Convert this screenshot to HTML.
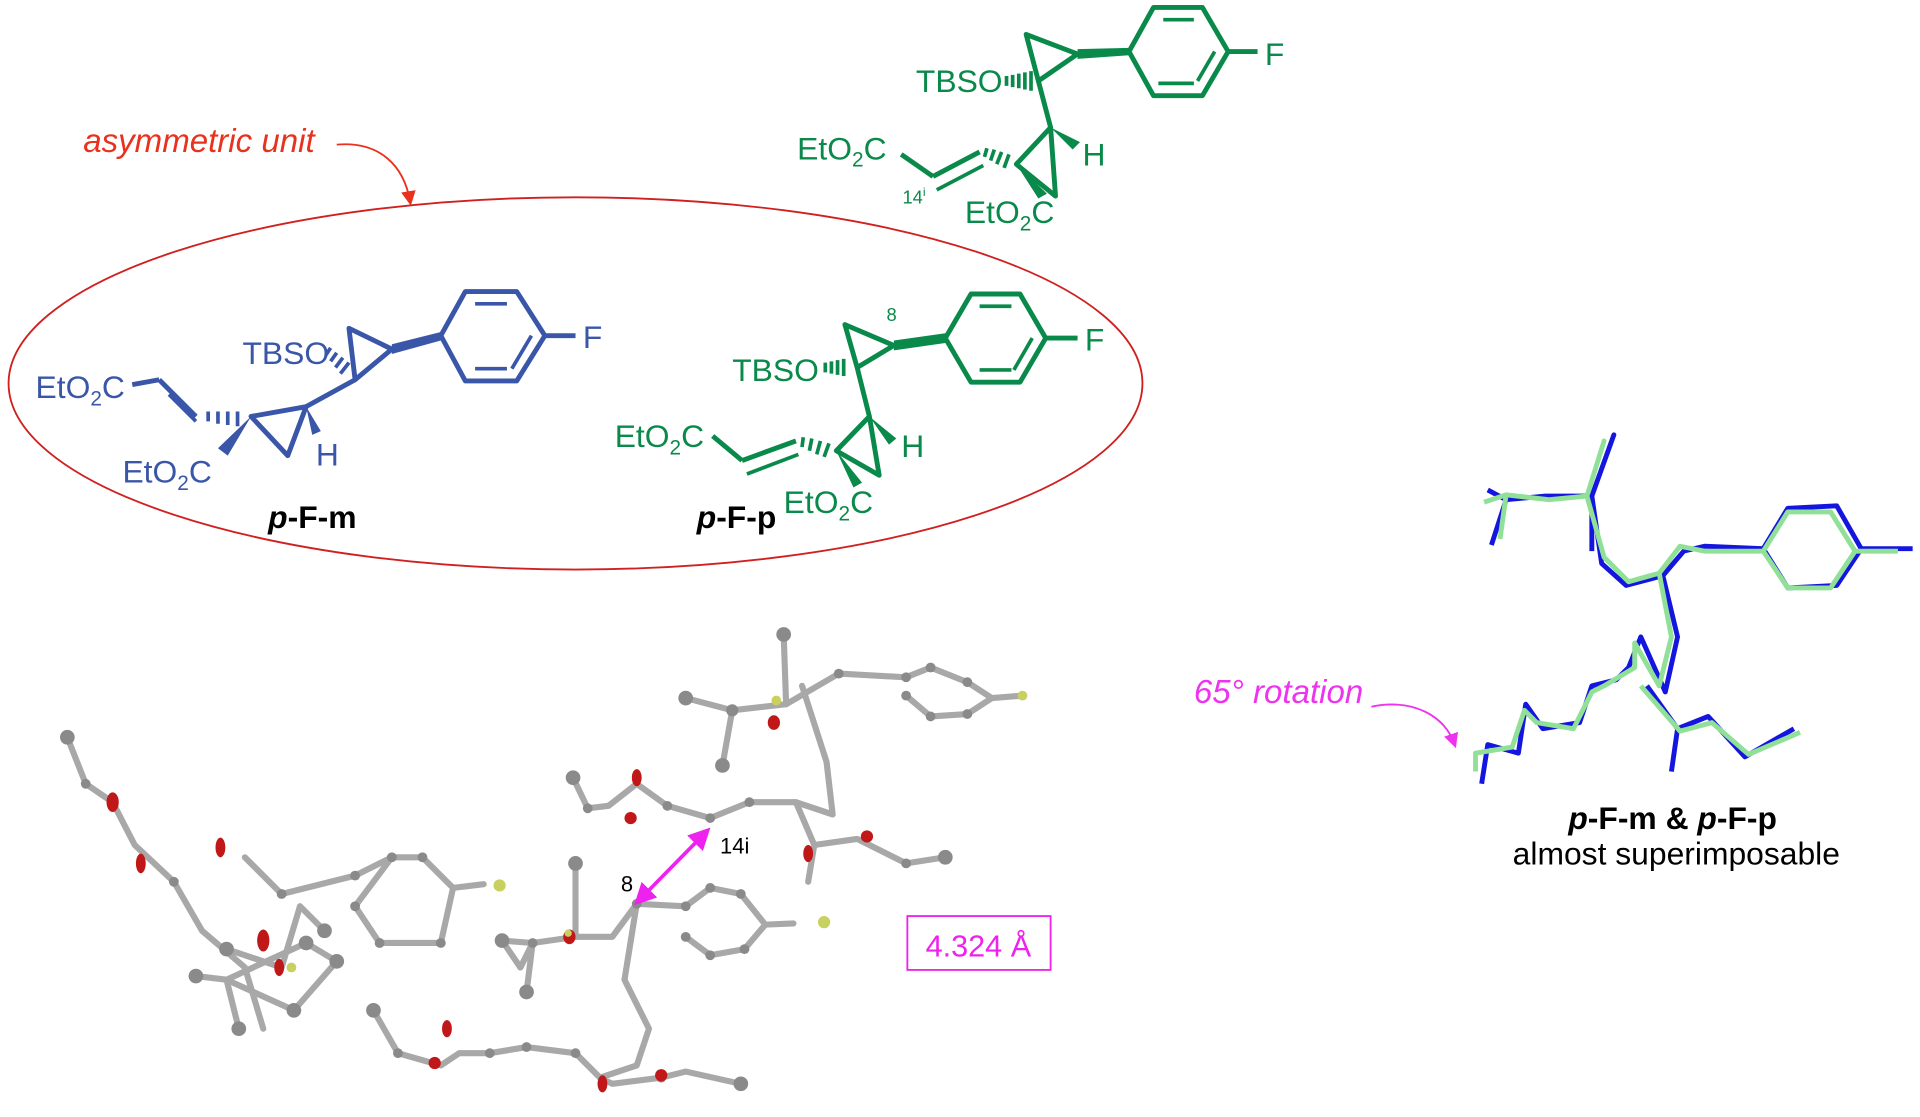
<!DOCTYPE html>
<html><head><meta charset="utf-8"><style>
html,body{margin:0;padding:0;background:#fff;}
svg{display:block;}
text{font-family:"Liberation Sans",Arial,sans-serif;}
</style></head><body>
<svg width="1920" height="1117" viewBox="0 0 1568 912" xmlns="http://www.w3.org/2000/svg">
<defs>
<marker id="ar" markerWidth="8" markerHeight="8" refX="6" refY="4" orient="auto"><path d="M0,0 L8,4 L0,8 z" fill="#e8321e"/></marker>
<marker id="am" markerWidth="8" markerHeight="8" refX="6" refY="4" orient="auto"><path d="M0,0 L8,4 L0,8 z" fill="#ee33ee"/></marker>
<marker id="am2" markerWidth="6" markerHeight="6" refX="4" refY="3" orient="auto-start-reverse"><path d="M0,0 L6,3 L0,6 z" fill="#ee22ee"/></marker>
</defs>

<text x="68" y="124" font-size="27" font-style="italic" fill="#e8321e">asymmetric unit</text>
<path d="M275,118 C310,115 330,135 335,165" fill="none" stroke="#e8321e" stroke-width="1.5" marker-end="url(#ar)"/>
<ellipse cx="470" cy="313" rx="463" ry="152" fill="none" stroke="#d02020" stroke-width="1.5"/>

<!-- Top green molecule -->
<g stroke="#0a8a4a" stroke-width="4" fill="none" stroke-linejoin="round">
<polygon points="942,6 982,6 1003,42 982,78 942,78 922,42"/>
<line x1="950" y1="16" x2="975" y2="16" stroke-width="3"/><line x1="992" y1="42" x2="978" y2="66" stroke-width="3"/>
<line x1="946" y1="68" x2="975" y2="68" stroke-width="3"/>
<line x1="1003" y1="42" x2="1027" y2="42"/>
<polygon points="838,28 880,44 848,66"/>
<line x1="848" y1="66" x2="858" y2="104"/>
<polygon points="858,104 830,134 862,160"/>
<line x1="736" y1="126" x2="762" y2="144"/>
<line x1="762" y1="144" x2="800" y2="124"/>
<line x1="765" y1="155" x2="803" y2="135" stroke-width="3"/>
</g>
<polygon points="880,40 922,39 922,45 880,48" fill="#0a8a4a"/>
<path d="M822,62 L822,70 M827,61 L827,71 M832,60 L832,72 M837,59 L837,73 M842,58 L842,74" stroke="#0a8a4a" stroke-width="3"/>
<polygon points="858,104 882,116 876,122" fill="#0a8a4a"/>
<path d="M806,121 L804,128 M812,122 L809,131 M818,124 L814,134 M824,126 L820,137" stroke="#0a8a4a" stroke-width="3"/>
<polygon points="830,134 855,158 848,162" fill="#0a8a4a"/>
<g fill="#0a8a4a" font-size="26">
<text x="1033" y="53">F</text>
<text x="748" y="75">TBSO</text>
<text x="884" y="135">H</text>
<text x="651" y="130">EtO<tspan font-size="17" dy="6">2</tspan><tspan dy="-6">C</tspan></text>
<text x="788" y="182">EtO<tspan font-size="17" dy="6">2</tspan><tspan dy="-6">C</tspan></text>
<text x="737" y="166" font-size="15">14<tspan font-size="10" dy="-6">i</tspan></text>
</g>

<!-- Blue molecule p-F-m -->
<g stroke="#3a56a8" stroke-width="4" fill="none" stroke-linejoin="round">
<polygon points="380,238 422,238 445,274 422,311 380,311 360,274"/>
<line x1="388" y1="248" x2="414" y2="248" stroke-width="3"/><line x1="434" y1="274" x2="418" y2="301" stroke-width="3"/>
<line x1="388" y1="301" x2="414" y2="301" stroke-width="3"/>
<line x1="445" y1="274" x2="470" y2="274"/>
<polygon points="285,268 320,285 290,310"/>
<line x1="290" y1="310" x2="250" y2="332"/>
<polygon points="250,332 205,340 235,372"/>
<line x1="108" y1="314" x2="130" y2="310"/>
<line x1="130" y1="310" x2="160" y2="340"/>
<line x1="138" y1="322" x2="160" y2="344" stroke-width="3"/>
</g>
<polygon points="320,281 360,271 360,278 320,289" fill="#3a56a8"/>
<path d="M270,284 L266,290 M275,288 L270,295 M280,292 L274,300 M285,296 L278,305" stroke="#3a56a8" stroke-width="3"/>
<path d="M170,336 L170,344 M178,336 L178,346 M186,336 L186,347 M194,336 L194,348" stroke="#3a56a8" stroke-width="3"/>
<polygon points="250,332 262,352 255,355" fill="#3a56a8"/>
<polygon points="205,340 186,372 178,366" fill="#3a56a8"/>
<g fill="#3a56a8" font-size="26">
<text x="476" y="284">F</text>
<text x="198" y="297">TBSO</text>
<text x="258" y="380">H</text>
<text x="29" y="325">EtO<tspan font-size="17" dy="6">2</tspan><tspan dy="-6">C</tspan></text>
<text x="100" y="394">EtO<tspan font-size="17" dy="6">2</tspan><tspan dy="-6">C</tspan></text>
</g>
<text x="219" y="431" font-size="26" font-weight="bold"><tspan font-style="italic">p</tspan>-F-m</text>

<!-- Green molecule p-F-p -->
<g stroke="#0a8a4a" stroke-width="4" fill="none" stroke-linejoin="round">
<polygon points="793,240 833,240 854,276 833,312 793,312 772,276"/>
<line x1="800" y1="250" x2="826" y2="250" stroke-width="3"/><line x1="843" y1="276" x2="828" y2="302" stroke-width="3"/>
<line x1="800" y1="302" x2="826" y2="302" stroke-width="3"/>
<line x1="854" y1="276" x2="880" y2="276"/>
<polygon points="690,265 730,282 700,300"/>
<line x1="700" y1="300" x2="710" y2="340"/>
<polygon points="710,340 683,368 718,388"/>
<line x1="582" y1="356" x2="606" y2="376"/>
<line x1="606" y1="376" x2="650" y2="360"/>
<line x1="610" y1="387" x2="652" y2="371" stroke-width="3"/>
</g>
<polygon points="730,278 772,272 772,280 730,286" fill="#0a8a4a"/>
<path d="M674,296 L674,304 M679,295 L679,305 M684,294 L684,306 M689,293 L689,307" stroke="#0a8a4a" stroke-width="3"/>
<path d="M656,357 L655,365 M663,358 L661,368 M670,360 L667,371 M677,362 L673,373" stroke="#0a8a4a" stroke-width="3"/>
<polygon points="710,340 732,358 726,363" fill="#0a8a4a"/>
<polygon points="683,368 704,394 697,398" fill="#0a8a4a"/>
<g fill="#0a8a4a" font-size="26">
<text x="886" y="286">F</text>
<text x="598" y="311">TBSO</text>
<text x="736" y="373">H</text>
<text x="502" y="365">EtO<tspan font-size="17" dy="6">2</tspan><tspan dy="-6">C</tspan></text>
<text x="640" y="419">EtO<tspan font-size="17" dy="6">2</tspan><tspan dy="-6">C</tspan></text>
<text x="724" y="262" font-size="15">8</text>
</g>
<text x="569" y="431" font-size="26" font-weight="bold"><tspan font-style="italic">p</tspan>-F-p</text>

<!-- Crystal structure -->
<g stroke="#a8a8a8" stroke-width="5" fill="none" stroke-linecap="round" stroke-linejoin="round">
<polyline points="55,602 70,640 92,655 110,690 142,720 165,760 200,790 215,840"/>
<polyline points="200,700 230,730 290,715 320,700 345,700 370,725 360,770 310,770 290,740 320,700"/>
<polyline points="370,725 395,722"/>
<polyline points="185,775 230,790 245,740 265,760"/>
<polyline points="160,797 185,800 250,770 275,785 240,825 185,800 195,840"/>
<polyline points="640,518 642,575 598,580 560,570 598,580 590,625"/>
<polyline points="642,575 685,550 740,553 760,545 790,557 810,570 790,583 760,585 740,568"/>
<polyline points="810,570 835,568"/>
<polyline points="655,560 675,622 680,665 650,655 612,655 580,668 545,658 520,640 497,658 480,660 468,635"/>
<polyline points="650,655 665,690 700,685 740,705 772,700"/>
<polyline points="665,690 660,720"/>
<polyline points="520,738 560,740 580,725 605,730 625,755 608,775 580,780 560,765"/>
<polyline points="625,755 648,754"/>
<polyline points="470,705 470,765 435,770 425,790 410,768 435,770 430,810"/>
<polyline points="470,765 500,765 520,738 510,800 530,840 520,870 490,880 470,860 430,855 400,860 375,860 360,870 325,860 305,825"/>
<polyline points="490,880 500,885 540,880 560,875 605,885"/>
</g>
<g fill="#8a8a8a">
<circle cx="55" cy="602" r="6"/><circle cx="70" cy="640" r="4"/><circle cx="142" cy="720" r="4"/><circle cx="230" cy="730" r="4"/><circle cx="290" cy="715" r="4"/><circle cx="320" cy="700" r="4"/><circle cx="345" cy="700" r="4"/><circle cx="360" cy="770" r="4"/><circle cx="310" cy="770" r="4"/><circle cx="290" cy="740" r="4"/>
<circle cx="185" cy="775" r="6"/><circle cx="160" cy="797" r="6"/><circle cx="195" cy="840" r="6"/><circle cx="250" cy="770" r="6"/><circle cx="275" cy="785" r="6"/><circle cx="265" cy="760" r="6"/><circle cx="240" cy="825" r="6"/>
<circle cx="640" cy="518" r="6"/><circle cx="560" cy="570" r="6"/><circle cx="590" cy="625" r="6"/><circle cx="598" cy="580" r="5"/><circle cx="685" cy="550" r="4"/><circle cx="740" cy="553" r="4"/><circle cx="760" cy="545" r="4"/><circle cx="790" cy="557" r="4"/><circle cx="790" cy="583" r="4"/><circle cx="760" cy="585" r="4"/><circle cx="740" cy="568" r="4"/>
<circle cx="468" cy="635" r="6"/><circle cx="480" cy="660" r="4"/><circle cx="545" cy="658" r="4"/><circle cx="580" cy="668" r="4"/><circle cx="612" cy="655" r="4"/><circle cx="772" cy="700" r="6"/><circle cx="740" cy="705" r="4"/>
<circle cx="560" cy="740" r="4"/><circle cx="580" cy="725" r="4"/><circle cx="605" cy="730" r="4"/><circle cx="608" cy="775" r="4"/><circle cx="580" cy="780" r="4"/><circle cx="560" cy="765" r="4"/>
<circle cx="470" cy="705" r="6"/><circle cx="410" cy="768" r="6"/><circle cx="430" cy="810" r="6"/><circle cx="435" cy="770" r="4"/><circle cx="520" cy="738" r="4"/>
<circle cx="470" cy="860" r="4"/><circle cx="430" cy="855" r="4"/><circle cx="400" cy="860" r="4"/><circle cx="325" cy="860" r="4"/><circle cx="305" cy="825" r="6"/><circle cx="540" cy="880" r="4"/><circle cx="605" cy="885" r="6"/>
</g>
<g fill="#c01818">
<ellipse cx="92" cy="655" rx="5" ry="8"/><ellipse cx="115" cy="705" rx="4" ry="8"/><ellipse cx="180" cy="692" rx="4" ry="8"/><ellipse cx="215" cy="768" rx="5" ry="9"/><ellipse cx="228" cy="790" rx="4" ry="7"/>
<ellipse cx="632" cy="590" rx="5" ry="6"/><ellipse cx="520" cy="635" rx="4" ry="7"/><ellipse cx="515" cy="668" rx="5" ry="5"/><ellipse cx="660" cy="697" rx="4" ry="7"/><ellipse cx="708" cy="683" rx="5" ry="5"/>
<ellipse cx="465" cy="765" rx="5" ry="6"/><ellipse cx="365" cy="840" rx="4" ry="7"/><ellipse cx="355" cy="868" rx="5" ry="5"/><ellipse cx="492" cy="885" rx="4" ry="7"/><ellipse cx="540" cy="878" rx="5" ry="5"/>
</g>
<g fill="#c8d060">
<circle cx="408" cy="723" r="5"/><circle cx="673" cy="753" r="5"/><circle cx="835" cy="568" r="4"/><circle cx="238" cy="790" r="4"/><circle cx="634" cy="572" r="4"/><circle cx="464" cy="762" r="3"/>
</g>
<line x1="576" y1="680" x2="522" y2="735" stroke="#ee22ee" stroke-width="3" marker-start="url(#am2)" marker-end="url(#am2)"/>
<text x="588" y="697" font-size="18">14i</text>
<text x="507" y="728" font-size="18">8</text>
<rect x="741" y="748" width="117" height="44" fill="none" stroke="#ee22ee" stroke-width="1.5"/>
<text x="799" y="781" font-size="25" fill="#ee22ee" text-anchor="middle">4.324 Å</text>

<!-- Overlay -->
<g fill="none" stroke-width="4" stroke-linejoin="round">
<g stroke="#1515e0">
<polyline points="1215,400 1230,408 1218,445"/><polyline points="1230,408 1262,405 1300,405 1318,355 1300,405 1308,460 1328,478 1358,470 1375,450 1392,446 1440,448 1460,415 1500,413 1520,448 1500,478 1460,480 1440,448"/>
<polyline points="1520,448 1562,448"/><polyline points="1300,405 1300,450"/>
<polyline points="1358,470 1370,520 1360,565 1340,520 1330,545 1320,555 1300,560 1290,590 1260,595 1246,575 1240,615 1215,608 1210,640"/>
<polyline points="1345,560 1370,595 1395,585 1425,618 1465,595"/><polyline points="1370,595 1365,630"/>
</g>
<g stroke="#90e098">
<polyline points="1212,410 1230,404 1225,440"/><polyline points="1230,404 1265,408 1296,405 1310,360 1296,405 1310,455 1330,475 1355,468 1372,446 1392,450 1440,450 1460,418 1495,418 1515,450 1495,480 1460,480 1440,450"/>
<polyline points="1515,450 1550,450"/>
<polyline points="1355,468 1365,520 1355,560 1335,525 1335,545 1310,560 1300,565 1285,595 1255,590 1245,580 1235,610 1205,615 1205,630"/>
<polyline points="1340,560 1372,597 1398,590 1428,616 1470,598"/>
</g>
</g>
<text x="975" y="574" font-size="27" font-style="italic" fill="#ee33ee">65° rotation</text>
<path d="M1120,577 C1155,570 1180,585 1188,608" fill="none" stroke="#ee33ee" stroke-width="1.5" marker-end="url(#am)"/>
<text x="1366" y="677" font-size="26" font-weight="bold" text-anchor="middle"><tspan font-style="italic">p</tspan>-F-m &amp; <tspan font-style="italic">p</tspan>-F-p</text>
<text x="1369" y="706" font-size="26" text-anchor="middle">almost superimposable</text>
</svg>
</body></html>
